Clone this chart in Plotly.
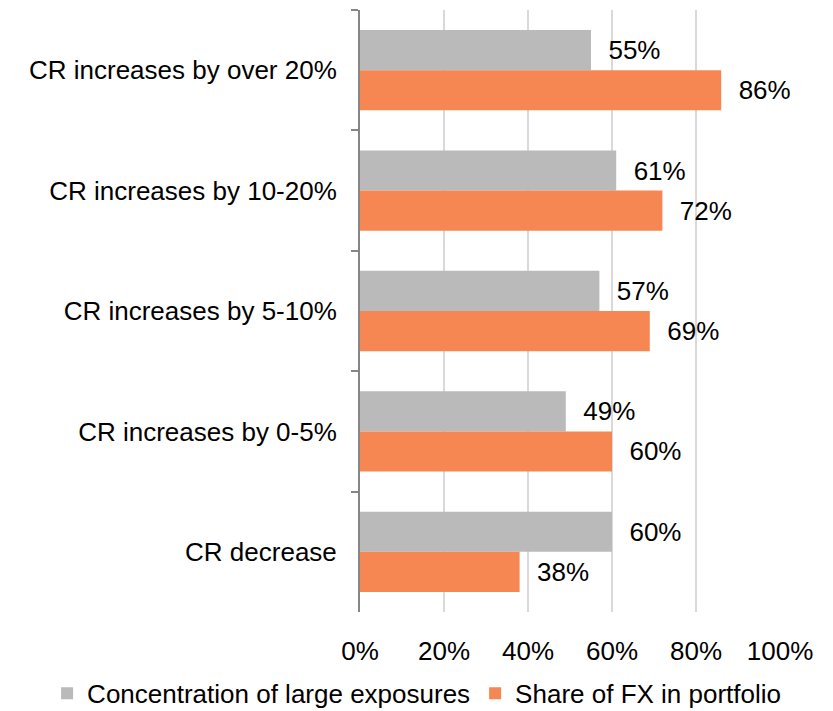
import plotly.graph_objects as go

categories = [
    "CR increases by over 20%",
    "CR increases by 10-20%",
    "CR increases by 5-10%",
    "CR increases by 0-5%",
    "CR decrease",
]
concentration = [55, 61, 57, 49, 60]
fx_share = [86, 72, 69, 60, 38]
x_ticks = [0, 20, 40, 60, 80, 100]
x_tick_labels = ["0%", "20%", "40%", "60%", "80%", "100%"]

FONT = "Liberation Sans, Arial, sans-serif"
FS = 26
GRAY = "#BABABA"
ORANGE = "#F68752"
PAD = "\u00a0\u00a0"  # spacing between bar end and its value label

fig = go.Figure()
fig.add_trace(go.Bar(
    y=categories, x=concentration, orientation="h",
    name="Concentration of large exposures",
    marker=dict(color=GRAY, line=dict(width=0)),
    text=[f"{PAD}{v}%" for v in concentration],
    textposition="outside", cliponaxis=False,
    textfont=dict(family=FONT, size=FS, color="#000000"),
))
fig.add_trace(go.Bar(
    y=categories, x=fx_share, orientation="h",
    name="Share of FX in portfolio",
    marker=dict(color=ORANGE, line=dict(width=0)),
    text=[f"{PAD}{v}%" for v in fx_share],
    textposition="outside", cliponaxis=False,
    textfont=dict(family=FONT, size=FS, color="#000000"),
))

fig.update_layout(
    width=833, height=711,
    margin=dict(l=360, r=53, t=10, b=99, autoexpand=False),
    paper_bgcolor="white", plot_bgcolor="white",
    barmode="group", bargap=1/3, bargroupgap=0,
    font=dict(family=FONT, size=FS, color="#000000"),
    showlegend=True,
    legend=dict(
        orientation="h", x=-0.745, xanchor="left",
        y=-0.135, yanchor="middle",
        font=dict(family=FONT, size=FS, color="#000000"),
    ),
    xaxis=dict(
        range=[0, 100], tickvals=x_ticks, ticktext=x_tick_labels,
        showgrid=True, gridcolor="#D9D9D9", gridwidth=2,
        zeroline=False, showline=False,
        ticks="outside", ticklen=16, tickcolor="rgba(0,0,0,0)",
        tickfont=dict(family=FONT, size=FS, color="#000000"),
    ),
    yaxis=dict(
        categoryorder="array", categoryarray=categories,
        range=[4.5, -0.5],
        showline=True, linecolor="#868686", linewidth=2,
        ticks="outside", tickson="boundaries", ticklen=7,
        tickcolor="#868686", tickwidth=2,
        showgrid=False, zeroline=False,
        ticklabelstandoff=16,
        tickfont=dict(family=FONT, size=FS, color="#000000"),
    ),
)

fig.write_html("out.html")
